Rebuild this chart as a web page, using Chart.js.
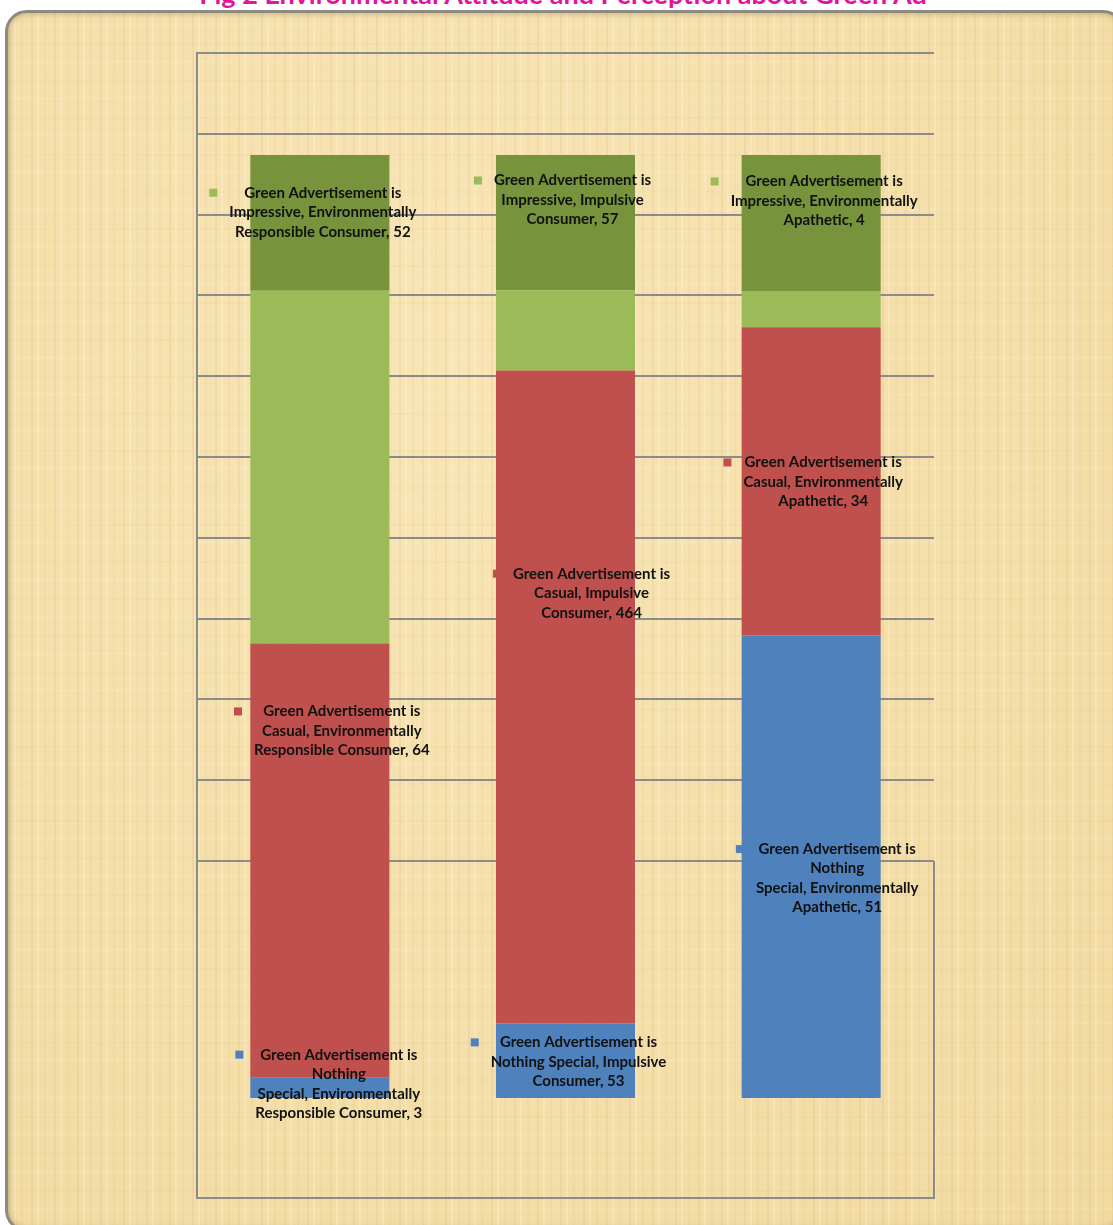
<!DOCTYPE html>
<html>
<head>
<meta charset="utf-8">
<script src="https://cdn.jsdelivr.net/npm/chart.js@4"></script>
<style>
  html, body { margin: 0; padding: 0; background: #fff; }
  body { width: 1113px; height: 1225px; position: relative; overflow: hidden; }
  /* papyrus panel */
  #panel {
    position: absolute; left: 5px; top: 10px; width: 1120px; height: 1222px;
    border-radius: 22px; box-sizing: border-box;
    border: 3px solid #8f8a80;
    box-shadow: inset 0 0 6px rgba(120,100,60,0.5);
    background-color: #f3dea8;
    background-image:
      repeating-linear-gradient(90deg, rgba(195,155,75,0.12) 0 2px, transparent 2px 6px, rgba(255,246,220,0.28) 6px 8px, transparent 8px 13px, rgba(200,160,90,0.08) 13px 15px, transparent 15px 23px),
      repeating-linear-gradient(0deg, rgba(200,165,90,0.06) 0 2px, transparent 2px 19px, rgba(255,240,205,0.15) 19px 22px, transparent 22px 37px),
      radial-gradient(ellipse at 40% 30%, rgba(255,238,200,0.45), rgba(232,200,130,0.2));
  }
  #title {
    position: absolute; left: 0; width: 1126px; top: -23px; text-align: center;
    font: bold 27px Lato, "Open Sans", sans-serif; color: #e3139c; white-space: nowrap;
  }
  #c { position: absolute; left: 0; top: 0; }
</style>
</head>
<body>
<div id="panel"></div>
<div id="title">Fig 2 Environmental Attitude and Perception about Green Ad</div>
<canvas id="c" width="1113" height="1225"></canvas>
<script>
// categories (consumer type) and series (perception of green ads)
var categories = ["Environmentally Responsible Consumer", "Impulsive Consumer", "Environmentally Apathetic"];
var seriesNames = ["Green Advertisement is Nothing Special", "Green Advertisement is Casual", "Green Advertisement is Impressive", "Other"];
var nothingSpecial = [3, 53, 51];
var casual = [64, 464, 34];
var impressive = [52, 57, 4];
var other = [20, 96, 15];

var seriesColors = ["#4f81bd", "#c0504d", "#9bbb59", "#77933c"];
var gridColor = "#8b8b8b";

// label placement per labelled series, per column: x offset from bar centre (px),
// y anchor on the percent axis, words per line
var labelDx = [[19, 13, 26], [22, 26, 12], [3, 7, 13]];
var labelY = [[4.6, 5.9, 26.4], [41.0, 55.6, 67.4], [96.0, 97.3, 97.2]];
var labelBreaks = [
  [[3, 1, 2, 3], [3, 3, 2], [3, 1, 2, 2]],
  [[3, 2, 3], [3, 2, 2], [3, 2, 2]],
  [[3, 2, 3], [3, 2, 2], [3, 2, 2]]
];

// 100% stacked: share of each column total
var raw = [nothingSpecial, casual, impressive, other];
var totals = categories.map(function (c, i) {
  return raw.reduce(function (s, arr) { return s + arr[i]; }, 0);
});
function pct(arr) { return arr.map(function (v, i) { return v / totals[i] * 100; }); }

var datasets = raw.map(function (arr, d) {
  return {
    label: seriesNames[d], data: pct(arr),
    backgroundColor: seriesColors[d], borderWidth: 0,
    barPercentage: 1, categoryPercentage: 0.566
  };
});

var labelFont = "bold 15px Lato, 'Open Sans', sans-serif";

var labelsPlugin = {
  id: "adLabels",
  afterDatasetsDraw: function (chart) {
    var ctx = chart.ctx;
    var ys = chart.scales.y;
    ctx.save();
    ctx.font = labelFont;
    ctx.textAlign = "center";
    ctx.textBaseline = "middle";
    for (var d = 0; d < 3; d++) {
      var meta = chart.getDatasetMeta(d);
      for (var i = 0; i < categories.length; i++) {
        var bar = meta.data[i];
        var words = (seriesNames[d] + ", " + categories[i] + ", " + raw[d][i]).split(" ");
        var lines = [], k = 0;
        labelBreaks[d][i].forEach(function (n) { lines.push(words.slice(k, k + n).join(" ")); k += n; });
        var cx = bar.x + labelDx[d][i];
        var y0 = ys.getPixelForValue(labelY[d][i]);
        var maxW = 0;
        lines.forEach(function (l) { maxW = Math.max(maxW, ctx.measureText(l).width); });
        ctx.fillStyle = seriesColors[d];
        ctx.fillRect(cx - maxW / 2 - 20, y0 - 4, 8, 8);
        ctx.fillStyle = "#111";
        lines.forEach(function (l, j) { ctx.fillText(l, cx, y0 + j * 19.5); });
      }
    }
    ctx.restore();
  }
};

// partial right-hand frame below the last gridline
var framePlugin = {
  id: "lowerFrame",
  beforeDatasetsDraw: function (chart) {
    var a = chart.chartArea, g = chart.scales.g, ctx = chart.ctx;
    ctx.save();
    ctx.strokeStyle = gridColor;
    ctx.lineWidth = 2;
    ctx.beginPath();
    ctx.moveTo(a.right, g.getPixelForValue(10));
    ctx.lineTo(a.right, a.bottom);
    ctx.stroke();
    ctx.restore();
  }
};

new Chart(document.getElementById("c"), {
  type: "bar",
  data: { labels: categories, datasets: datasets },
  plugins: [framePlugin, labelsPlugin],
  options: {
    responsive: false, animation: false,
    layout: { padding: { left: 197, right: 179, top: 53, bottom: 27 } },
    plugins: { legend: { display: false }, tooltip: { enabled: false } },
    scales: {
      x: {
        stacked: true,
        ticks: { display: false },
        grid: { display: false, drawTicks: false },
        border: { display: true, color: gridColor, width: 2 }
      },
      y: {
        stacked: true, display: false,
        min: -10.6, max: 110.82
      },
      g: {
        position: "left", reverse: true, min: 0, max: 14.17,
        ticks: { display: false, stepSize: 1 },
        grid: {
          drawTicks: false, lineWidth: 2,
          color: function (c) { return c.tick && c.tick.value <= 10 ? gridColor : "rgba(0,0,0,0)"; }
        },
        border: { display: true, color: gridColor, width: 2 }
      }
    }
  }
});
</script>
</body>
</html>
